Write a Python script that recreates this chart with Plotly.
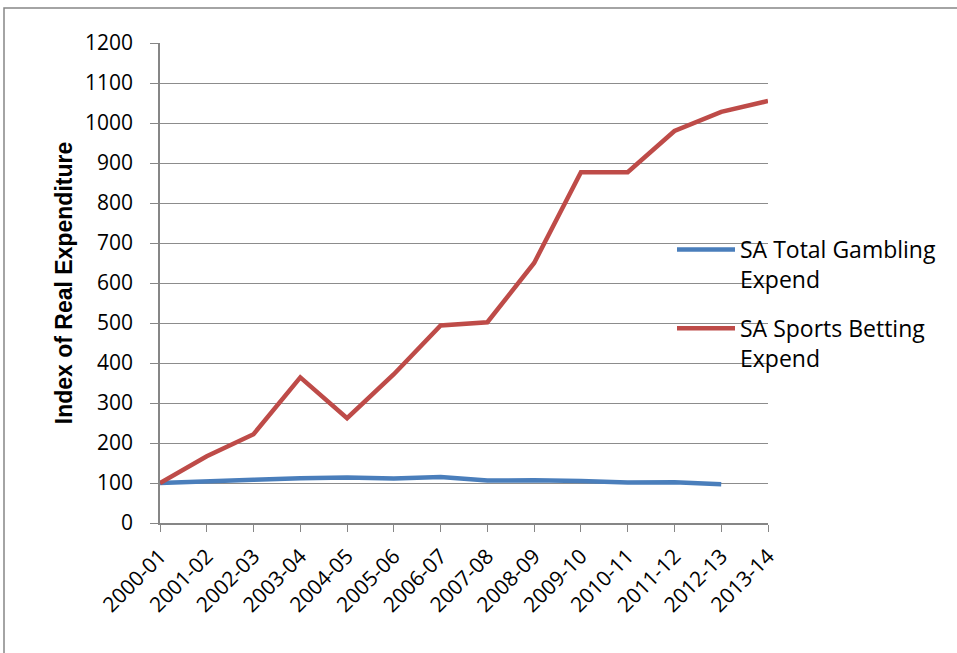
import plotly.graph_objects as go

years = ["2000-01", "2001-02", "2002-03", "2003-04", "2004-05", "2005-06", "2006-07",
         "2007-08", "2008-09", "2009-10", "2010-11", "2011-12", "2012-13", "2013-14"]
total_gambling = [100, 103, 108, 112, 114, 111, 115, 106, 107, 105, 101, 102, 97, None]
sports_betting = [100, 167, 222, 364, 262, 372, 494, 502, 650, 877, 877, 980, 1028, 1055]

W, H = 957, 653
L, R, T, B = 160, 768, 43, 523

fig = go.Figure()
fig.add_trace(go.Scatter(x=years, y=total_gambling, mode="lines",
                         name="SA Total Gambling<br>Expend", legendgroup="g1",
                         line=dict(color="#4A7EBB", width=4.5)))
fig.add_trace(go.Scatter(x=years, y=sports_betting, mode="lines",
                         name="SA Sports Betting<br>Expend", legendgroup="g2",
                         line=dict(color="#BE4B48", width=4.5)))

pw, ph = R - L, B - T
def px(x):
    return (x - L) / pw
def py(y):
    return (B - y) / ph

fig.update_layout(
    width=W, height=H,
    margin=dict(l=L, r=W - R, t=T, b=H - B, autoexpand=False),
    paper_bgcolor="white", plot_bgcolor="white",
    showlegend=True,
    legend=dict(x=px(672), y=py(228), xanchor="left", yanchor="top",
                bgcolor="rgba(0,0,0,0)", font=dict(family="Open Sans", size=23, color="black"),
                valign="top", tracegroupgap=16, itemwidth=58),
    xaxis=dict(type="category", range=[0, 13], showgrid=False,
               showline=True, linecolor="#868686", linewidth=1.5,
               ticks="outside", ticklen=7, tickcolor="#868686", tickwidth=1.2,
               tickangle=-45, ticklabelstandoff=4,
               tickfont=dict(family="Open Sans", size=21, color="black")),
    yaxis=dict(range=[0, 1200], dtick=100, showgrid=True, gridcolor="#8C8C8C", gridwidth=1.2,
               showline=True, linecolor="#868686", linewidth=1.5,
               ticks="outside", ticklen=8, tickcolor="#868686", tickwidth=1.2,
               ticklabelstandoff=13,
               tickfont=dict(family="Open Sans", size=21, color="black"),
               zeroline=False,
               title=dict(text="<b>Index of Real Expenditure</b>",
                          font=dict(family="Liberation Sans", size=23, color="black"), standoff=6)),
)

fig.add_shape(type="rect", xref="paper", yref="paper",
              x0=px(4), y0=py(665), x1=px(965), y1=py(8),
              line=dict(color="#868686", width=1.5), layer="below")

fig.write_html("out.html")
